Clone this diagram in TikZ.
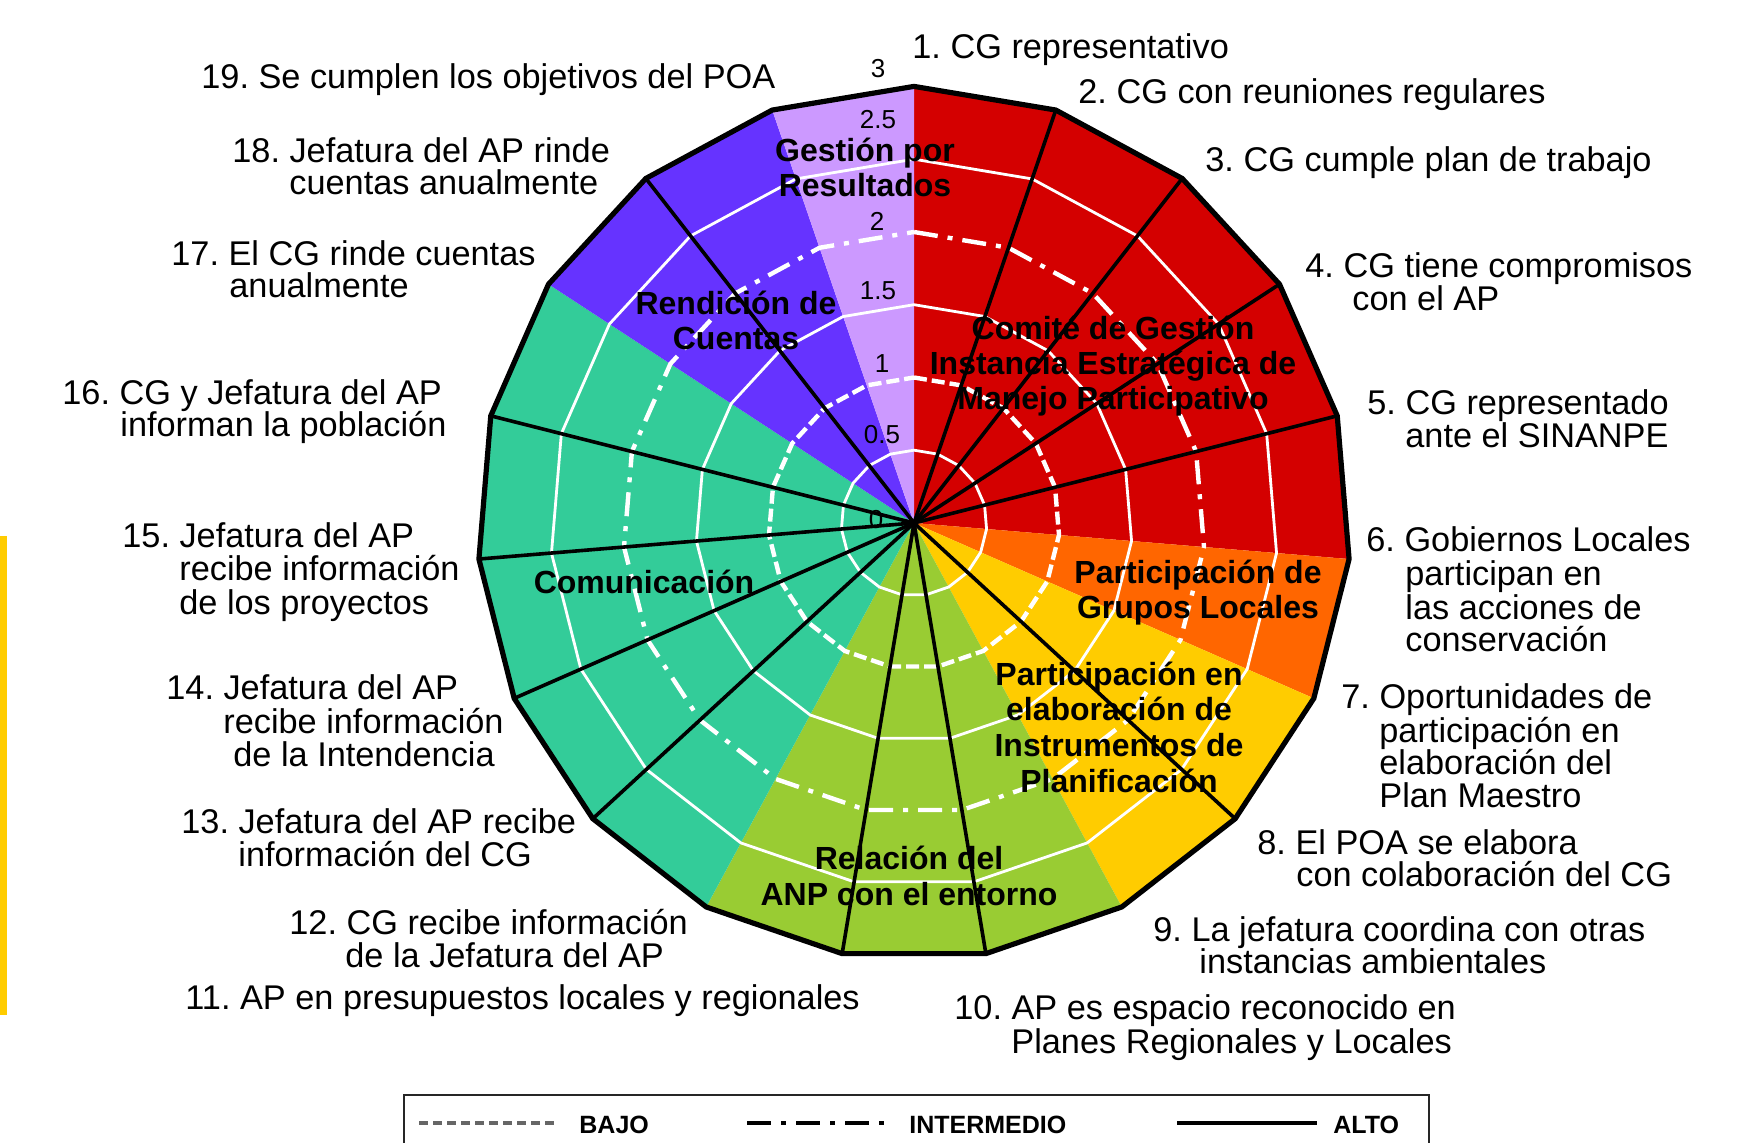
\documentclass[tikz,border=0pt]{standalone}
\usepackage{fontspec}
\setmainfont{Liberation Sans}
\definecolor{cRed}{HTML}{D40000}
\definecolor{cOrange}{HTML}{FF6600}
\definecolor{cYellow}{HTML}{FFCC00}
\definecolor{cLime}{HTML}{99CC33}
\definecolor{cTeal}{HTML}{33CC99}
\definecolor{cBlue}{HTML}{6633FF}
\definecolor{cLilac}{HTML}{CC99FF}
\definecolor{cBar}{HTML}{FFCC00}
\definecolor{cLegGray}{HTML}{666666}
\frenchspacing
\begin{document}
\frenchspacing
\begin{tikzpicture}[x=0.5pt,y=-0.5pt,
  lab/.style={anchor=base west, inner sep=0pt, yshift=-1.6pt, font=\frenchspacing\fontsize{17.15}{20}\selectfont},
  grp/.style={anchor=base, inner sep=0pt, yshift=-1pt, font=\bfseries\fontsize{16}{19}\selectfont},
  ticklab/.style={anchor=center, inner sep=0pt, font=\fontsize{13}{15}\selectfont},
  leg/.style={anchor=base west, inner sep=0pt, font=\bfseries\fontsize{12.5}{15}\selectfont},
  ringline/.style={draw=white, line width=1.4pt, line join=round},
  spoke/.style={draw=black, line width=1.8pt},
  bajo/.style={line width=2.2pt, dash pattern=on 6.5pt off 2.5pt},
  inter/.style={line width=2.2pt, dash pattern=on 12pt off 5pt on 2.5pt off 5pt},
]
\useasboundingbox (0,0) rectangle (1755,1143);
\fill[white] (0,0) rectangle (1755,1143);
\fill[cBar] (0,536) rectangle (7,1015);

\def\R{436.6}
\def\st{18.947368}
\begin{scope}[shift={(914,523)}]
\coordinate (c) at (0,0);
\foreach \k in {1,...,19} { \coordinate (v\k) at ({-90+(\k-1)*\st}:\R); }
% sectors
\fill[cRed] (c) -- (v1) -- (v2) -- (v3) -- (v4) -- (v5) -- (v6) -- cycle;
\fill[cOrange] (c) -- (v6) -- (v7) -- cycle;
\fill[cYellow] (c) -- (v7) -- (v8) -- (v9) -- cycle;
\fill[cLime] (c) -- (v9) -- (v10) -- (v11) -- (v12) -- cycle;
\fill[cTeal] (c) -- (v12) -- (v13) -- (v14) -- (v15) -- (v16) -- (v17) -- cycle;
\fill[cBlue] (c) -- (v17) -- (v18) -- (v19) -- cycle;
\fill[cLilac] (c) -- (v19) -- (v1) -- cycle;
\end{scope}

% scale labels
\node[ticklab] (t3) at (878,69) {3};
\node[ticklab] (t25) at (878,120) {2.5};
\node[ticklab] (t2) at (877,221) {2};
\node[ticklab] (t15) at (878,291) {1.5};
\node[ticklab] (t1) at (882,364) {1};
\node[ticklab] (t05) at (882,435) {0.5};
\node[ticklab] (t0) at (876,520) {0};

\begin{scope}[shift={(914,523)}]
% rings
\draw[ringline] (-90:72.8) \foreach \k in {2,...,19} { -- ({-90+(\k-1)*\st}:72.8) } -- cycle;
\draw[ringline] (-90:218.3) \foreach \k in {2,...,19} { -- ({-90+(\k-1)*\st}:218.3) } -- cycle;
\draw[ringline] (-90:363.8) \foreach \k in {2,...,19} { -- ({-90+(\k-1)*\st}:363.8) } -- cycle;
\draw[white, bajo] (-90:145.5) \foreach \k in {2,...,19} { -- ({-90+(\k-1)*\st}:145.5) } -- cycle;
\draw[white, inter] (-90:291) \foreach \k in {2,...,19} { -- ({-90+(\k-1)*\st}:291) } -- cycle;
% spokes
\foreach \k in {2,3,4,5,8,10,11,13,14,15,16,18} { \draw[spoke] (c) -- (v\k); }
% outline
\draw[black, line width=2.6pt, line join=miter] (v1) -- (v2) -- (v3) -- (v4) -- (v5) -- (v6) -- (v7) -- (v8) -- (v9) -- (v10) -- (v11) -- (v12) -- (v13) -- (v14) -- (v15) -- (v16) -- (v17) -- (v18) -- (v19) -- cycle;
\end{scope}

% group labels
\node[grp] (g1a) at (865,160) {Gestión por};
\node[grp] (g1b) at (865,195) {Resultados};
\node[grp] (g2a) at (736,313) {Rendición de};
\node[grp] (g2b) at (736,348) {Cuentas};
\node[grp] (g3a) at (1113,338) {Comité de Gestión};
\node[grp] (g3b) at (1113,373) {Instancia Estratégica de};
\node[grp] (g3c) at (1113,408) {Manejo Participativo};
\node[grp] (g4a) at (1198,582) {Participación de};
\node[grp] (g4b) at (1198,617) {Grupos Locales};
\node[grp] (g5a) at (1119,683) {Participación en};
\node[grp] (g5b) at (1119,718) {elaboración de};
\node[grp] (g5c) at (1119,754) {Instrumentos de};
\node[grp] (g5d) at (1119,790) {Planificación};
\node[grp] (g6a) at (909,867) {Relación del};
\node[grp] (g6b) at (909,903) {ANP con el entorno};
\node[grp] (g7a) at (644,592) {Comunicación};

% axis labels
\node[lab] (l1) at (912,55) {1. CG representativo};
\node[lab] (l2) at (1078,100) {2. CG con reuniones regulares};
\node[lab] (l3) at (1205,168) {3. CG cumple plan de trabajo};
\node[lab] (l4a) at (1305,274) {4. CG tiene compromisos};
\node[lab] (l4b) at (1352,307) {con el AP};
\node[lab] (l5a) at (1367,411) {5. CG representado};
\node[lab] (l5b) at (1405,444) {ante el SINANPE};
\node[lab] (l6a) at (1366,548) {6. Gobiernos Locales};
\node[lab] (l6b) at (1405,582) {participan en};
\node[lab] (l6c) at (1405,616) {las acciones de};
\node[lab] (l6d) at (1405,648) {conservación};
\node[lab] (l7a) at (1341,705) {7. Oportunidades de};
\node[lab] (l7b) at (1379,739) {participación en};
\node[lab] (l7c) at (1379,771) {elaboración del};
\node[lab] (l7d) at (1379,804) {Plan Maestro};
\node[lab] (l8a) at (1257,851) {8. El POA se elabora};
\node[lab] (l8b) at (1296,883) {con colaboración del CG};
\node[lab] (l9a) at (1153,938) {9. La jefatura coordina con otras};
\node[lab] (l9b) at (1199,970) {instancias ambientales};
\node[lab] (l10a) at (954,1016) {10. AP es espacio reconocido en};
\node[lab] (l10b) at (1011,1050) {Planes Regionales y Locales};
\node[lab] (l11) at (185,1006) {11. AP en presupuestos locales y regionales};
\node[lab] (l12a) at (289,931) {12. CG recibe información};
\node[lab] (l12b) at (345,964) {de la Jefatura del AP};
\node[lab] (l13a) at (181,830) {13. Jefatura del AP recibe};
\node[lab] (l13b) at (238,863) {información del CG};
\node[lab] (l14a) at (166,696) {14. Jefatura del AP};
\node[lab] (l14b) at (223,730) {recibe información};
\node[lab] (l14c) at (233,763) {de la Intendencia};
\node[lab] (l15a) at (122,544) {15. Jefatura del AP};
\node[lab] (l15b) at (179,577) {recibe información};
\node[lab] (l15c) at (179,611) {de los proyectos};
\node[lab] (l16a) at (62,401) {16. CG y Jefatura del AP};
\node[lab] (l16b) at (120,433) {informan la población};
\node[lab] (l17a) at (171,262) {17. El CG rinde cuentas};
\node[lab] (l17b) at (229,294) {anualmente};
\node[lab] (l18a) at (232,159) {18. Jefatura del AP rinde};
\node[lab] (l18b) at (289,191) {cuentas anualmente};
\node[lab] (l19) at (201,85) {19. Se cumplen los objetivos del POA};

% legend
\draw[black!85, line width=1pt] (404,1160) -- (404,1095) -- (1429,1095) -- (1429,1160);
\coordinate (b1) at (419,1123); \coordinate (b2) at (557,1123);
\coordinate (i1) at (747,1123); \coordinate (i2) at (890,1123);
\coordinate (a1) at (1177,1123); \coordinate (a2) at (1317,1123);
\draw[cLegGray, line width=2.2pt, dash pattern=on 4.5pt off 2.5pt] (b1) -- (b2);
\draw[black, inter] (i1) -- (i2);
\draw[black, line width=2.2pt] (a1) -- (a2);
\node[leg] (lb) at (579,1133) {BAJO};
\node[leg] (li) at (909,1133) {INTERMEDIO};
\node[leg] (la) at (1333,1133) {ALTO};
\end{tikzpicture}
\end{document}
